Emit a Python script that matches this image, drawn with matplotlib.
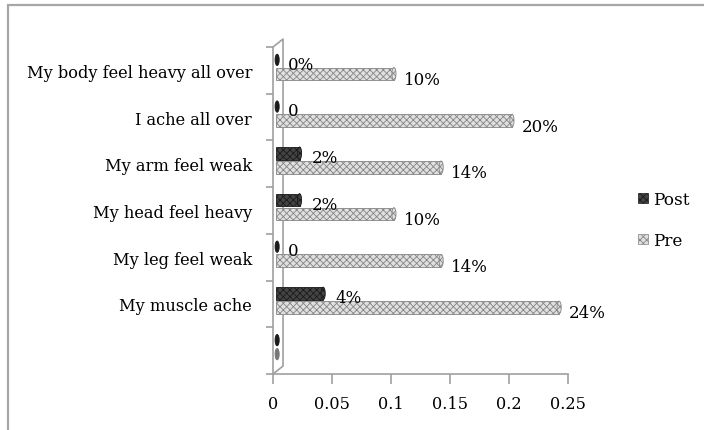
import matplotlib
matplotlib.use('Agg')
import matplotlib.pyplot as plt
from matplotlib.patches import Rectangle, Ellipse, Patch

plt.rcParams['font.family'] = ['DejaVu Serif']
plt.rcParams['hatch.linewidth'] = 0.6

# bottom to top, the first row is an empty category
categories = ['', 'My muscle ache', 'My leg feel weak', 'My head feel heavy',
              'My arm feel weak', 'I ache all over', 'My body feel heavy all over']
pre = [0.0, 0.24, 0.14, 0.10, 0.14, 0.20, 0.10]
post = [0.0, 0.04, 0.0, 0.02, 0.02, 0.0, 0.0]
pre_labels = ['', '24%', '14%', '10%', '14%', '20%', '10%']
post_labels = ['', '4%', '0', '2%', '2%', '0', '0%']
xticks = [0, 0.05, 0.1, 0.15, 0.2, 0.25]

W, H = 704, 431
fig = plt.figure(figsize=(W / 100, H / 100), dpi=100)
ax = fig.add_axes([273 / W, 1 - 375 / H, (568 - 273) / W, (375 - 48) / H])

grey = '#a0a0a0'
x0 = 0.0025          # bars sit slightly in front of the wall
cap_w = 0.0035       # width of the round end of a cylinder
h = 0.27


def cylinder(y, v, face, edge, cap):
    if v > 0:
        ax.add_patch(Rectangle((x0, y - h / 2), v, h, facecolor=face,
                               edgecolor=edge, hatch='xxxxx', lw=0.6, zorder=3))
        ax.add_patch(Ellipse((x0 + v, y), cap_w, h, facecolor=face,
                             edgecolor=edge, hatch='xxxxx', lw=0.6, zorder=4))
    else:
        ax.add_patch(Ellipse((x0 + 0.001, y), cap_w, h * 0.9, facecolor=cap,
                             edgecolor=cap, lw=0.6, zorder=4))


for i in range(len(categories)):
    yp = i - 0.075
    yq = i + 0.225
    cylinder(yp, pre[i], '#e0e0e0', '#858585', '#777777')
    cylinder(yq, post[i], '#444444', '#1a1a1a', '#1a1a1a')
    if pre_labels[i]:
        ax.annotate(pre_labels[i], (x0 + pre[i], yp), xytext=(7, -4),
                    textcoords='offset points', ha='left', va='center', fontsize=12)
    if post_labels[i]:
        ax.annotate(post_labels[i], (x0 + post[i] + 0.001, yq), xytext=(8, -3),
                    textcoords='offset points', ha='left', va='center', fontsize=12)

ax.set_xlim(0, 0.25)
ax.set_ylim(-0.5, len(categories) - 0.5)
ax.set_xticks(xticks)
ax.set_xticklabels(['0', '0.05', '0.1', '0.15', '0.2', '0.25'], fontsize=11.6)
ax.set_yticks(range(len(categories)))
ax.set_yticklabels(categories, fontsize=11.7)
ax.set_yticks([k - 0.5 for k in range(len(categories) + 1)], minor=True)
ax.tick_params(axis='y', which='major', length=0, pad=15)
ax.tick_params(axis='y', which='minor', length=5, color=grey, width=1.2)
ax.tick_params(axis='x', length=7, color=grey, width=1.2, pad=8)

for s in ['top', 'right']:
    ax.spines[s].set_visible(False)
for s in ['left', 'bottom']:
    ax.spines[s].set_color(grey)
    ax.spines[s].set_linewidth(1.2)

# thin back wall of the 3D chart
dx, dy = 0.0085, 0.17
top = len(categories) - 0.5
bot = -0.5
ax.plot([0, dx, dx, 0], [top, top + dy, bot + dy, bot], color=grey, lw=1.2,
        clip_on=False, zorder=2)

handles = [Patch(facecolor='#444444', edgecolor='#1a1a1a', hatch='xxxxx', lw=0.5),
           Patch(facecolor='#e0e0e0', edgecolor='#858585', hatch='xxxxx', lw=0.5)]
fig.legend(handles, ['Post', 'Pre'], loc='center left',
           bbox_to_anchor=(623 / W, 1 - 221 / H), frameon=False, fontsize=12.2,
           handlelength=0.55, handleheight=0.55, handletextpad=0.35, labelspacing=1.4)

# outer chart border
fig.add_artist(Rectangle((8 / W, -0.05), 1.0, 1.05 - 6 / H, transform=fig.transFigure,
                         fill=False, edgecolor='#a6a6a6', lw=1.6))

fig.savefig('out.png', dpi=100)
